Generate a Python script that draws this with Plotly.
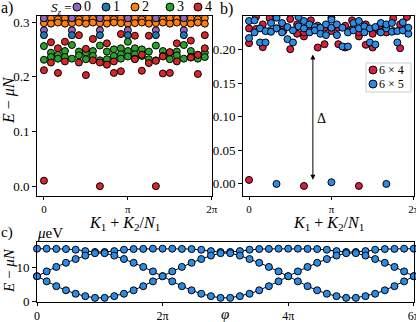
import numpy as np
import plotly.graph_objects as go

W, H = 416, 322
FONT = "Liberation Serif"
PI = np.pi

# ---------------- Panel a: 6x4 spectrum by S_z (momentum index k, K = 2*pi*k/24)
NA = 24
sz0_k = [0, 4, 8, 12, 16, 20, 0, 4, 8, 12, 16, 20]
sz0_E = [0.307, 0.307, 0.307, 0.307, 0.307, 0.307, 0.285, 0.285, 0.285, 0.285, 0.285, 0.285]
sz1_k = [0, 4, 8, 12, 16, 20]
sz1_E = [0.276, 0.276, 0.276, 0.276, 0.276, 0.276]
sz2_k = [0, 1, 2, 3, 4, 5, 6, 7, 8, 9, 10, 11, 12, 13, 14, 15, 16, 17, 18, 19, 20, 21, 22, 23,
         0, 1, 2, 3, 4, 5, 6, 7, 8, 9, 10, 11, 12, 13, 14, 15, 16, 17, 18, 19, 20, 21, 22, 23]
sz2_E = [0.306, 0.307, 0.305, 0.307, 0.306, 0.305, 0.307, 0.306, 0.306, 0.307, 0.305, 0.307,
         0.306, 0.307, 0.305, 0.307, 0.306, 0.305, 0.307, 0.306, 0.306, 0.307, 0.305, 0.307,
         0.298, 0.297, 0.299, 0.297, 0.298, 0.299, 0.297, 0.299, 0.298, 0.297, 0.299, 0.298,
         0.297, 0.298, 0.299, 0.297, 0.298, 0.299, 0.297, 0.299, 0.298, 0.297, 0.299, 0.297]
sz3_k = [0, 0, 1, 1, 2, 2, 3, 3, 4, 4, 5, 5, 6, 6, 7, 7, 8, 8, 9, 9, 10, 10, 11, 11, 11,
         12, 12, 12, 13, 13, 13, 14, 14, 15, 15, 16, 16, 17, 17, 18, 18, 19, 19, 20, 20,
         21, 21, 22, 22, 23, 23]
sz3_E = [0.256, 0.231, 0.244, 0.236, 0.240, 0.233, 0.247, 0.236, 0.258, 0.233, 0.246, 0.239,
         0.244, 0.232, 0.247, 0.238, 0.257, 0.230, 0.246, 0.232, 0.250, 0.238, 0.252, 0.241,
         0.233, 0.264, 0.247, 0.237, 0.252, 0.241, 0.233, 0.250, 0.238, 0.246, 0.232, 0.257,
         0.230, 0.247, 0.238, 0.244, 0.232, 0.246, 0.239, 0.258, 0.233, 0.247, 0.236, 0.240,
         0.233, 0.244, 0.236]
sz4_k = [0, 0, 1, 1, 2, 2, 3, 3, 5, 5, 6, 6, 7, 7, 8, 8, 9, 9, 10, 10, 11, 11,
         13, 13, 14, 14, 15, 15, 16, 16, 17, 17, 18, 18, 19, 19, 21, 21, 22, 22, 23, 23]
sz4_E = [0.010, 0.212, 0.263, 0.226, 0.252, 0.207, 0.264, 0.228, 0.276, 0.226, 0.251, 0.203,
         0.269, 0.230, 0.000, 0.226, 0.261, 0.222, 0.207, 0.228, 0.278, 0.210,
         0.275, 0.232, 0.211, 0.240, 0.275, 0.225, 0.000, 0.229, 0.206, 0.237, 0.207, 0.245,
         0.261, 0.228, 0.266, 0.235, 0.205, 0.240, 0.276, 0.252]

sz_labels = ["0", "1", "2", "3", "4"]
sz_colors = ["#9467bd", "#1f77b4", "#ff7f0e", "#2ca02c", "#d62728"]

# ---------------- Panel b: 6x4 vs 6x5 spectra
NB4, NB5 = 24, 30
b4_k = [0, 0, 0, 1, 1, 2, 2, 3, 3, 4, 4, 5, 5, 6, 6, 7, 7, 8, 8, 8, 9, 9, 10, 10, 11, 11,
        12, 12, 13, 13, 14, 14, 15, 15, 16, 16, 16, 17, 17, 18, 18, 19, 19, 20, 20,
        21, 21, 22, 22, 23, 23]
b4_E = [0.006, 0.210, 0.232, 0.231, 0.249, 0.204, 0.238, 0.228, 0.247, 0.232, 0.251,
        0.228, 0.236, 0.201, 0.246, 0.224, 0.238, -0.003, 0.220, 0.226, 0.231, 0.244,
        0.2035, 0.236, 0.2085, 0.233, 0.228, 0.248, 0.2085, 0.233, 0.2035, 0.236,
        0.231, 0.244, -0.003, 0.220, 0.226, 0.2075, 0.238, 0.2035, 0.224, 0.228, 0.236,
        0.232, 0.226, 0.228, 0.247, 0.2025, 0.238, 0.231, 0.249]
b5_k = [0, 0, 1, 1, 2, 2, 3, 3, 4, 4, 5, 5, 5, 6, 6, 7, 7, 8, 8, 9, 9, 10, 10, 11, 11,
        12, 12, 13, 13, 14, 14, 15, 15, 15, 16, 16, 17, 17, 18, 18, 19, 19, 20, 20,
        21, 21, 22, 22, 23, 23, 24, 24, 25, 25, 25, 26, 26, 27, 27, 28, 28, 29, 29]
b5_E = [0.2175, 0.243, 0.244, 0.226, 0.211, 0.232, 0.211, 0.228, 0.240, 0.227,
        0.000, 0.232, 0.248, 0.226, 0.240, 0.216, 0.234, 0.211, 0.229, 0.235, 0.249,
        0.232, 0.243, 0.226, 0.238, 0.234, 0.229, 0.233, 0.224, 0.222, 0.238,
        0.0025, 0.233, 0.245, 0.222, 0.238, 0.205, 0.233, 0.205, 0.226, 0.229, 0.240,
        0.232, 0.243, 0.235, 0.226, 0.211, 0.232, 0.208, 0.234, 0.226, 0.240,
        0.000, 0.232, 0.238, 0.240, 0.227, 0.211, 0.228, 0.229, 0.241, 0.224, 0.233]

# ---------------- Panel c: spectral flow (micro eV) vs flux phi in [0, 6pi]
n_phi = 40
E_low = [7.4, 5.9, 4.5, 3.3, 2.3, 1.6, 1.1, 1.1, 1.6, 2.3, 3.3, 4.5, 5.9,
         7.4, 5.9, 4.5, 3.3, 2.3, 1.6, 1.1, 1.1, 1.6, 2.3, 3.3, 4.5, 5.9,
         7.4, 5.9, 4.5, 3.3, 2.3, 1.6, 1.1, 1.1, 1.6, 2.3, 3.3, 4.5, 5.9, 7.4]
E_mid = [7.4, 8.8, 10.1, 11.3, 12.4, 13.4, 14.1, 14.1, 13.4, 12.4, 11.3, 10.1, 8.8,
         7.4, 8.8, 10.1, 11.3, 12.4, 13.4, 14.1, 14.1, 13.4, 12.4, 11.3, 10.1, 8.8,
         7.4, 8.8, 10.1, 11.3, 12.4, 13.4, 14.1, 14.1, 13.4, 12.4, 11.3, 10.1, 8.8, 7.4]
E_top = [15.4, 15.4, 15.35, 15.3, 15.1, 14.7, 14.45, 14.45, 14.7, 15.1, 15.3, 15.35, 15.4,
         15.4, 15.4, 15.35, 15.3, 15.1, 14.7, 14.45, 14.45, 14.7, 15.1, 15.3, 15.35, 15.4,
         15.4, 15.4, 15.35, 15.3, 15.1, 14.7, 14.45, 14.45, 14.7, 15.1, 15.3, 15.35, 15.4, 15.4]

RED_B = "#d81e3c"
BLUE_B = "#2b8ce8"

fig = go.Figure()

def mk(color, size=7):
    return dict(color=color, size=size, line=dict(color="black", width=1))

# panel a (orange first so the purple/blue states stay visible on top)
for ks, Es, c in [(sz2_k, sz2_E, sz_colors[2]), (sz0_k, sz0_E, sz_colors[0]),
                  (sz1_k, sz1_E, sz_colors[1]), (sz3_k, sz3_E, sz_colors[3]),
                  (sz4_k, sz4_E, sz_colors[4])]:
    fig.add_trace(go.Scatter(x=[2 * PI * k / NA for k in ks], y=Es, mode="markers",
                             marker=mk(c), xaxis="x", yaxis="y", showlegend=False))

# panel b
fig.add_trace(go.Scatter(x=[2 * PI * k / NB4 for k in b4_k], y=b4_E, mode="markers",
                         marker=mk(RED_B), xaxis="x2", yaxis="y2", showlegend=False))
fig.add_trace(go.Scatter(x=[2 * PI * k / NB5 for k in b5_k], y=b5_E, mode="markers",
                         marker=mk(BLUE_B), xaxis="x2", yaxis="y2", showlegend=False))

# panel c
phi = [6 * PI * i / (n_phi - 1) for i in range(n_phi)]
for Es in (E_top, E_mid, E_low):
    fig.add_trace(go.Scatter(x=phi, y=Es, mode="lines+markers",
                             line=dict(color="black", width=1),
                             marker=mk(BLUE_B), xaxis="x3", yaxis="y3", showlegend=False,
                             cliponaxis=False))

def px(x):
    return x / W

def py(y):
    return 1 - y / H

tickfont = dict(family=FONT, size=13, color="black")
axis_common = dict(showline=True, linecolor="black", linewidth=1, mirror=True,
                   ticks="outside", ticklen=4, tickwidth=1, tickcolor="black",
                   showgrid=False, zeroline=False, automargin=False, tickfont=tickfont,
                   ticklabeloverflow="allow")
xfont = dict(family=FONT, size=11, color="black")
x_common = {**axis_common, "tickfont": xfont, "ticklen": 3}

pi_vals = [0, PI, 2 * PI]
pi_text = ["0", "π", "2π"]

fig.update_layout(
    width=W, height=H, margin=dict(l=0, r=0, t=0, b=0), autosize=False,
    template="none", plot_bgcolor="white", paper_bgcolor="white",
    xaxis=dict(domain=[px(37), px(212)], range=[-0.26, 6.29], tickvals=pi_vals,
               ticktext=pi_text, anchor="y", **x_common),
    yaxis=dict(domain=[py(196), py(16)], range=[-0.018, 0.311], tickvals=[0, 0.1, 0.2, 0.3],
               ticktext=["0.0", "0.1", "0.2", "0.3"], anchor="x", **axis_common),
    xaxis2=dict(domain=[px(243), px(414)], range=[-0.23, 6.29], tickvals=pi_vals,
                ticktext=pi_text, anchor="y2", **x_common),
    yaxis2=dict(domain=[py(196), py(16)], range=[-0.018, 0.2505],
                tickvals=[0, 0.05, 0.1, 0.15, 0.2],
                ticktext=["0.00", "0.05", "0.10", "0.15", "0.20"], anchor="x2", **axis_common),
    xaxis3=dict(domain=[px(37), px(414)], range=[0, 6 * PI + 0.01],
                tickvals=[0, 2 * PI, 4 * PI, 6 * PI], ticktext=["0", "2π", "4π", "6π"],
                anchor="y3", **{**x_common, "tickfont": dict(family=FONT, size=12, color="black")}),
    yaxis3=dict(domain=[py(302), py(242)], range=[-0.1, 17.35], tickvals=[0, 10],
                ticktext=["0", "10"], anchor="x3", **axis_common),
)

ann = []
def txt(x, y, s, size=15, xanchor="center", yanchor="middle", angle=0):
    ann.append(dict(x=px(x), y=py(y), xref="paper", yref="paper", text=s, showarrow=False,
                    xanchor=xanchor, yanchor=yanchor, textangle=angle,
                    font=dict(family=FONT, size=size, color="black")))

txt(-1, 8, "a)", 16, xanchor="left")
txt(218, 9, "b)", 16, xanchor="left")
txt(-1, 232, "c)", 15, xanchor="left")
txt(35, 233, "<i>μ</i>eV", 15, xanchor="left")
txt(9, 100, "<i>E</i> − <i>μN</i>", 16, angle=-90)
txt(9, 271, "<i>E</i> − <i>μN</i>", 15, angle=-90)
txt(124, 223, "<i>K</i><sub>1</sub> + <i>K</i><sub>2</sub>/<i>N</i><sub>1</sub>", 16)
txt(328, 223, "<i>K</i><sub>1</sub> + <i>K</i><sub>2</sub>/<i>N</i><sub>1</sub>", 16)
txt(225, 314, "<i>φ</i>", 15)
txt(321, 118, "Δ", 14)
txt(49, 8, "<i>S<sub>z</sub></i> =", 13, xanchor="left")

# S_z legend (manual, compact)
sz_leg_x = [77, 106, 135, 170, 198]
shapes = []
for xx, lab, c in zip(sz_leg_x, sz_labels, sz_colors):
    shapes.append(dict(type="circle", xref="paper", yref="paper", xsizemode="pixel",
                       ysizemode="pixel", xanchor=px(xx), yanchor=py(7), x0=-4, x1=4,
                       y0=-4, y1=4, fillcolor=c, line=dict(color="black", width=1)))
    txt(xx + 5, 7, lab, 14, xanchor="left")

# panel b legend box
shapes.append(dict(type="rect", xref="paper", yref="paper", x0=px(366), x1=px(411),
                   y0=py(92), y1=py(63), fillcolor="white", line=dict(color="#cccccc", width=1)))
for yy, lab, c in [(70, "6 × 4", RED_B), (84, "6 × 5", BLUE_B)]:
    shapes.append(dict(type="circle", xref="paper", yref="paper", xsizemode="pixel",
                       ysizemode="pixel", xanchor=px(373), yanchor=py(yy), x0=-4, x1=4,
                       y0=-4, y1=4, fillcolor=c, line=dict(color="black", width=1)))
    txt(377, yy, lab, 12, xanchor="left")

# gap arrow in panel b
ann.append(dict(x=0.775 * PI, y=0.193, ax=0.775 * PI, ay=0.004, xref="x2", yref="y2",
                axref="x2", ayref="y2", text="", showarrow=True, arrowhead=2,
                arrowside="end+start", arrowsize=1, arrowwidth=1, arrowcolor="black",
                standoff=0, startstandoff=0))

fig.update_layout(annotations=ann, shapes=shapes)
fig.write_html("out.html", config={"displayModeBar": False},
               post_script="document.body.style.margin='0';document.body.style.overflow='hidden';")
